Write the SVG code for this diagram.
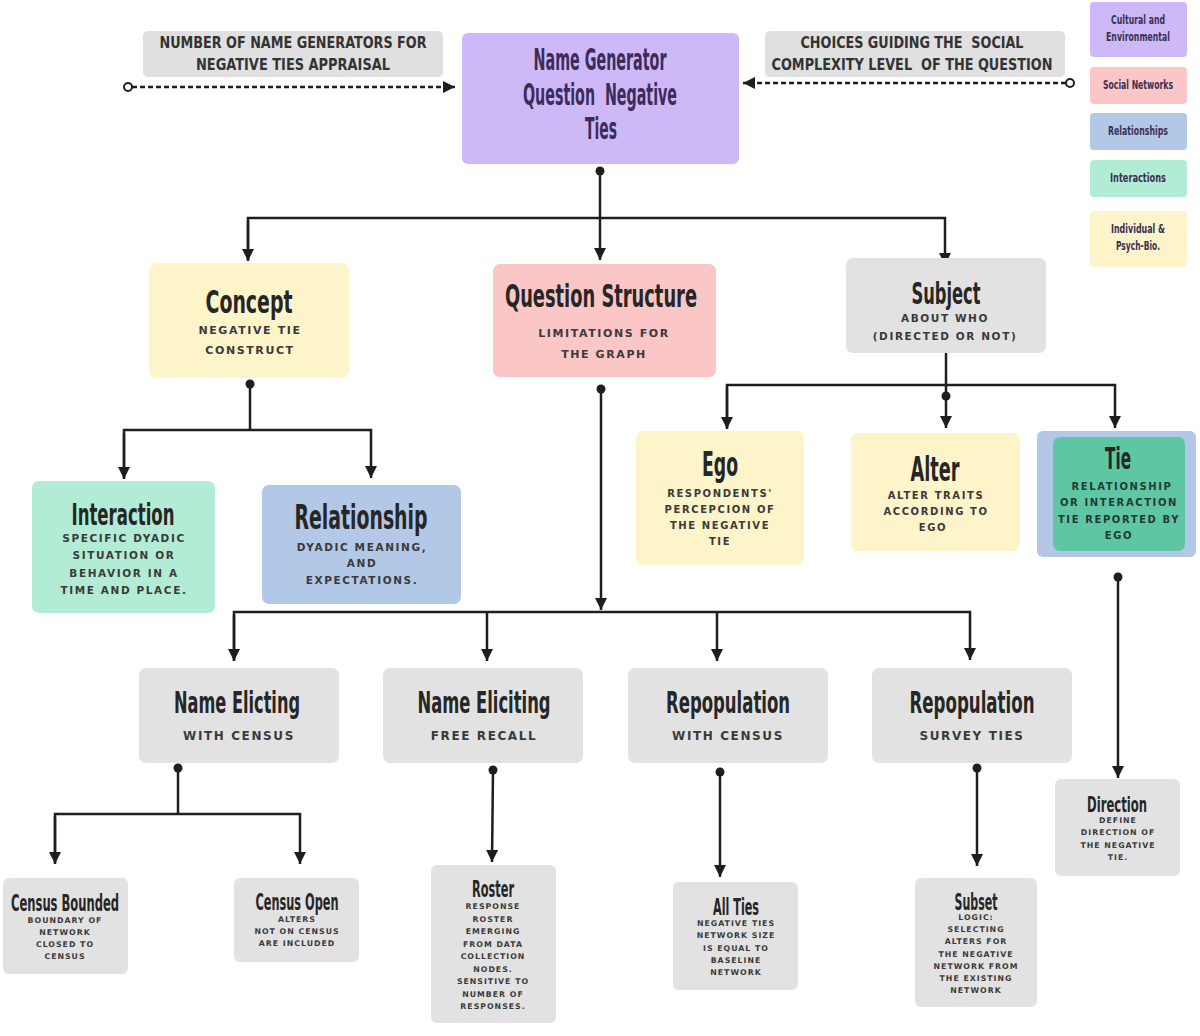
<svg xmlns="http://www.w3.org/2000/svg" width="1200" height="1036" viewBox="0 0 1200 1036">
<style>
.bx{stroke:none}
.purple{fill:#cdb9f7}.pink{fill:#fbc6c6}.yellow{fill:#fdf4ca}.gray{fill:#e2e2e2}.blue{fill:#b3c7e7}.green{fill:#b3ecd4}.teal{fill:#5fc6a4}
.t{font-family:"Liberation Sans Narrow","DejaVu Sans Condensed",sans-serif;font-weight:bold;fill:#262626;text-anchor:middle}
.s{font-family:"DejaVu Sans","Liberation Sans",sans-serif;font-weight:bold;fill:#3a3a3a;text-anchor:middle;font-size:11px;letter-spacing:1.6px}
.ss{font-family:"DejaVu Sans","Liberation Sans",sans-serif;font-weight:bold;fill:#3a3a3a;text-anchor:middle;font-size:7.8px;letter-spacing:1px}
.lg{font-family:"Liberation Sans Narrow","DejaVu Sans Condensed",sans-serif;font-weight:bold;fill:#3a3050;text-anchor:middle;font-size:12px}
.lb{font-family:"Liberation Sans Narrow","DejaVu Sans Condensed",sans-serif;font-weight:bold;fill:#333;text-anchor:middle;font-size:16px;white-space:pre}
.ln{fill:none;stroke:#1e1e1e;stroke-width:2.5}
.dl{fill:none;stroke:#1e1e1e;stroke-width:2.5;stroke-dasharray:5 3}
</style>
<defs>
<marker id="ah" markerUnits="userSpaceOnUse" markerWidth="12" markerHeight="12" refX="10" refY="5" orient="auto" viewBox="0 0 10 10">
<path d="M0,0 L10,5 L0,10 z" fill="#1e1e1e"/>
</marker>
</defs>
<rect width="1200" height="1036" fill="#ffffff"/>

<g id="connectors">
<path class="dl" d="M132,87 L455,87" marker-end="url(#ah)"/>
<circle cx="128" cy="87" r="4" fill="#fff" stroke="#1e1e1e" stroke-width="2"/>
<path class="dl" d="M1066,83 L743,83" marker-end="url(#ah)"/>
<circle cx="1070" cy="83" r="4" fill="#fff" stroke="#1e1e1e" stroke-width="2"/>
<circle cx="600" cy="171" r="4.5" fill="#1e1e1e"/>
<path class="ln" d="M600,171 L600,260" marker-end="url(#ah)"/>
<path class="ln" d="M248,260 L248,218 L945,218 L945,265" marker-end="url(#ah)"/>
<path class="ln" d="M248,221 L248,261" marker-end="url(#ah)"/>
<circle cx="250" cy="384" r="4.5" fill="#1e1e1e"/>
<path class="ln" d="M250,384 L250,430"/>
<path class="ln" d="M124,478 L124,430 L371,430 L371,478" marker-end="url(#ah)"/>
<path class="ln" d="M124,433 L124,479" marker-end="url(#ah)"/>
<path class="ln" d="M946,353 L946,428" marker-end="url(#ah)"/>
<circle cx="946" cy="396" r="4.5" fill="#1e1e1e"/>
<path class="ln" d="M727,428 L727,385 L1115,385 L1115,428" marker-end="url(#ah)"/>
<path class="ln" d="M727,388 L727,429" marker-end="url(#ah)"/>
<circle cx="601" cy="389" r="4.5" fill="#1e1e1e"/>
<path class="ln" d="M601,389 L601,610" marker-end="url(#ah)"/>
<path class="ln" d="M234,660 L234,612 L970,612 L970,660" marker-end="url(#ah)"/>
<path class="ln" d="M234,615 L234,661" marker-end="url(#ah)"/>
<path class="ln" d="M487,612 L487,661" marker-end="url(#ah)"/>
<path class="ln" d="M717,612 L717,661" marker-end="url(#ah)"/>
<circle cx="1118" cy="577" r="4.5" fill="#1e1e1e"/>
<path class="ln" d="M1118,577 L1118,778" marker-end="url(#ah)"/>
<circle cx="178" cy="768" r="4.5" fill="#1e1e1e"/>
<path class="ln" d="M178,768 L178,814"/>
<path class="ln" d="M55,863 L55,814 L300,814 L300,864" marker-end="url(#ah)"/>
<path class="ln" d="M55,817 L55,864" marker-end="url(#ah)"/>
<circle cx="493" cy="770" r="4.5" fill="#1e1e1e"/>
<path class="ln" d="M493,770 L492,862" marker-end="url(#ah)"/>
<circle cx="720" cy="772" r="4.5" fill="#1e1e1e"/>
<path class="ln" d="M720,772 L720,877" marker-end="url(#ah)"/>
<circle cx="977" cy="768" r="4.5" fill="#1e1e1e"/>
<path class="ln" d="M977,768 L977,866" marker-end="url(#ah)"/>
</g>

<g id="label-left">
<rect class="bx" x="143" y="31" width="300" height="46" rx="5" fill="#e0e0e0"/>
<text class="lb" x="293" y="48" textLength="267" lengthAdjust="spacingAndGlyphs">NUMBER OF NAME GENERATORS FOR</text>
<text class="lb" x="293" y="70" textLength="194" lengthAdjust="spacingAndGlyphs">NEGATIVE TIES APPRAISAL</text>
</g>
<g id="label-right">
<rect class="bx" x="765" y="31" width="300" height="46" rx="5" fill="#e0e0e0"/>
<text class="lb" x="912" y="48" textLength="223" lengthAdjust="spacingAndGlyphs" xml:space="preserve">CHOICES GUIDING THE  SOCIAL</text>
<text class="lb" x="912" y="70" textLength="281" lengthAdjust="spacingAndGlyphs" xml:space="preserve">COMPLEXITY LEVEL  OF THE QUESTION</text>
</g>

<g id="main">
<rect class="bx purple" x="462" y="33" width="277" height="131" rx="6"/>
<text class="t" x="600" y="70" font-size="30" style="fill:#3d2b5c" textLength="133" lengthAdjust="spacingAndGlyphs">Name Generator</text>
<text class="t" x="600" y="105" font-size="30" style="fill:#3d2b5c;white-space:pre" textLength="154" lengthAdjust="spacingAndGlyphs" xml:space="preserve">Question  Negative</text>
<text class="t" x="601" y="139" font-size="30" style="fill:#3d2b5c" textLength="32" lengthAdjust="spacingAndGlyphs">Ties</text>
</g>

<g id="legend">
<g id="legend-cultural"><rect class="bx purple" x="1090" y="2" width="97" height="55" rx="4"/>
<text class="lg" x="1138" y="24" textLength="54" lengthAdjust="spacingAndGlyphs">Cultural and</text>
<text class="lg" x="1138" y="41" textLength="64" lengthAdjust="spacingAndGlyphs">Environmental</text></g>
<g id="legend-social"><rect class="bx pink" x="1090" y="67" width="97" height="37" rx="4"/>
<text class="lg" x="1138" y="89" textLength="70" lengthAdjust="spacingAndGlyphs">Social Networks</text></g>
<g id="legend-rel"><rect class="bx blue" x="1090" y="113" width="97" height="37" rx="4"/>
<text class="lg" x="1138" y="135" textLength="60" lengthAdjust="spacingAndGlyphs">Relationships</text></g>
<g id="legend-int"><rect class="bx green" x="1090" y="160" width="97" height="37" rx="4"/>
<text class="lg" x="1138" y="182" textLength="56" lengthAdjust="spacingAndGlyphs">Interactions</text></g>
<g id="legend-ind"><rect class="bx yellow" x="1090" y="211" width="97" height="56" rx="4"/>
<text class="lg" x="1138" y="233" textLength="54" lengthAdjust="spacingAndGlyphs">Individual &amp;</text>
<text class="lg" x="1138" y="250" textLength="44" lengthAdjust="spacingAndGlyphs">Psych-Bio.</text></g>
</g>

<g id="concept">
<rect class="bx yellow" x="149" y="263" width="200" height="115" rx="7"/>
<text class="t" x="249" y="313" font-size="32" textLength="87" lengthAdjust="spacingAndGlyphs">Concept</text>
<text class="s" x="250" y="334">NEGATIVE TIE</text>
<text class="s" x="250" y="354">CONSTRUCT</text>
</g>
<g id="question-structure">
<rect class="bx pink" x="493" y="264" width="223" height="113" rx="7"/>
<text class="t" x="601" y="307" font-size="32" textLength="192" lengthAdjust="spacingAndGlyphs">Question Structure</text>
<text class="s" x="604" y="337">LIMITATIONS FOR</text>
<text class="s" x="604" y="358">THE GRAPH</text>
</g>
<g id="subject">
<rect class="bx gray" x="846" y="258" width="200" height="95" rx="7"/>
<text class="t" x="946" y="304" font-size="30" textLength="69" lengthAdjust="spacingAndGlyphs">Subject</text>
<text class="s" x="945" y="322" style="font-size:10.5px">ABOUT WHO</text>
<text class="s" x="945" y="340" style="font-size:10.5px">(DIRECTED OR NOT)</text>
</g>

<g id="interaction">
<rect class="bx green" x="32" y="481" width="183" height="132" rx="7"/>
<text class="t" x="123" y="525" font-size="30" textLength="103" lengthAdjust="spacingAndGlyphs">Interaction</text>
<text class="s" x="124" y="542" style="font-size:10.5px">SPECIFIC DYADIC</text>
<text class="s" x="124" y="559" style="font-size:10.5px">SITUATION OR</text>
<text class="s" x="124" y="577" style="font-size:10.5px">BEHAVIOR IN A</text>
<text class="s" x="124" y="594" style="font-size:10.5px">TIME AND PLACE.</text>
</g>
<g id="relationship">
<rect class="bx blue" x="262" y="485" width="199" height="119" rx="7"/>
<text class="t" x="361" y="529" font-size="33" textLength="133" lengthAdjust="spacingAndGlyphs">Relationship</text>
<text class="s" x="362" y="551" style="font-size:10.5px">DYADIC MEANING,</text>
<text class="s" x="362" y="567" style="font-size:10.5px">AND</text>
<text class="s" x="362" y="584" style="font-size:10.5px">EXPECTATIONS.</text>
</g>
<g id="ego">
<rect class="bx yellow" x="636" y="431" width="168" height="134" rx="7"/>
<text class="t" x="720" y="476" font-size="34" textLength="36" lengthAdjust="spacingAndGlyphs">Ego</text>
<text class="s" x="720" y="497" style="font-size:10px">RESPONDENTS'</text>
<text class="s" x="720" y="513" style="font-size:10px">PERCEPCION OF</text>
<text class="s" x="720" y="529" style="font-size:10px">THE NEGATIVE</text>
<text class="s" x="720" y="545" style="font-size:10px">TIE</text>
</g>
<g id="alter">
<rect class="bx yellow" x="851" y="433" width="169" height="118" rx="7"/>
<text class="t" x="935" y="481" font-size="34" textLength="49" lengthAdjust="spacingAndGlyphs">Alter</text>
<text class="s" x="936" y="499" style="font-size:10px">ALTER TRAITS</text>
<text class="s" x="936" y="515" style="font-size:10px">ACCORDING TO</text>
<text class="s" x="933" y="531" style="font-size:10px">EGO</text>
</g>
<g id="tie">
<rect class="bx blue" x="1037" y="431" width="159" height="126" rx="6"/>
<rect class="bx teal" x="1053" y="437" width="132" height="114" rx="7"/>
<text class="t" x="1118" y="469" font-size="30" textLength="26" lengthAdjust="spacingAndGlyphs">Tie</text>
<text class="s" x="1122" y="490" style="font-size:10px;fill:#1f3b33">RELATIONSHIP</text>
<text class="s" x="1119" y="506" style="font-size:10px;fill:#1f3b33">OR INTERACTION</text>
<text class="s" x="1119" y="523" style="font-size:10px;fill:#1f3b33">TIE REPORTED BY</text>
<text class="s" x="1119" y="539" style="font-size:10px;fill:#1f3b33">EGO</text>
</g>

<g id="name-elicting-census">
<rect class="bx gray" x="139" y="668" width="200" height="95" rx="7"/>
<text class="t" x="237" y="713" font-size="30" textLength="126" lengthAdjust="spacingAndGlyphs">Name Elicting</text>
<text class="s" x="239" y="740" style="font-size:12px">WITH CENSUS</text>
</g>
<g id="name-eliciting-recall">
<rect class="bx gray" x="383" y="668" width="200" height="95" rx="7"/>
<text class="t" x="484" y="713" font-size="30" textLength="133" lengthAdjust="spacingAndGlyphs">Name Eliciting</text>
<text class="s" x="484" y="740" style="font-size:12px">FREE RECALL</text>
</g>
<g id="repop-census">
<rect class="bx gray" x="628" y="668" width="200" height="95" rx="7"/>
<text class="t" x="728" y="713" font-size="30" textLength="124" lengthAdjust="spacingAndGlyphs">Repopulation</text>
<text class="s" x="728" y="740" style="font-size:12px">WITH CENSUS</text>
</g>
<g id="repop-survey">
<rect class="bx gray" x="872" y="668" width="200" height="95" rx="7"/>
<text class="t" x="972" y="713" font-size="30" textLength="125" lengthAdjust="spacingAndGlyphs">Repopulation</text>
<text class="s" x="972" y="740" style="font-size:12px">SURVEY TIES</text>
</g>

<g id="direction">
<rect class="bx gray" x="1055" y="779" width="125" height="97" rx="6"/>
<text class="t" x="1117" y="812" font-size="22" textLength="60" lengthAdjust="spacingAndGlyphs">Direction</text>
<text class="ss" x="1118" y="823">DEFINE</text>
<text class="ss" x="1118" y="835">DIRECTION OF</text>
<text class="ss" x="1118" y="848">THE NEGATIVE</text>
<text class="ss" x="1118" y="860">TIE.</text>
</g>

<g id="census-bounded">
<rect class="bx gray" x="3" y="878" width="125" height="96" rx="6"/>
<text class="t" x="65" y="911" font-size="23" textLength="108" lengthAdjust="spacingAndGlyphs">Census Bounded</text>
<text class="ss" x="65" y="923">BOUNDARY OF</text>
<text class="ss" x="65" y="935">NETWORK</text>
<text class="ss" x="65" y="947">CLOSED TO</text>
<text class="ss" x="65" y="959">CENSUS</text>
</g>
<g id="census-open">
<rect class="bx gray" x="234" y="878" width="125" height="84" rx="6"/>
<text class="t" x="297" y="910" font-size="23" textLength="83" lengthAdjust="spacingAndGlyphs">Census Open</text>
<text class="ss" x="297" y="922">ALTERS</text>
<text class="ss" x="297" y="934">NOT ON CENSUS</text>
<text class="ss" x="297" y="946">ARE INCLUDED</text>
</g>
<g id="roster">
<rect class="bx gray" x="431" y="865" width="125" height="158" rx="6"/>
<text class="t" x="493" y="897" font-size="23" textLength="42" lengthAdjust="spacingAndGlyphs">Roster</text>
<text class="ss" x="493" y="909">RESPONSE</text>
<text class="ss" x="493" y="922">ROSTER</text>
<text class="ss" x="493" y="934">EMERGING</text>
<text class="ss" x="493" y="947">FROM DATA</text>
<text class="ss" x="493" y="959">COLLECTION</text>
<text class="ss" x="493" y="972">NODES.</text>
<text class="ss" x="493" y="984">SENSITIVE TO</text>
<text class="ss" x="493" y="997">NUMBER OF</text>
<text class="ss" x="493" y="1009">RESPONSES.</text>
</g>
<g id="all-ties">
<rect class="bx gray" x="673" y="882" width="125" height="108" rx="6"/>
<text class="t" x="736" y="915" font-size="23" textLength="46" lengthAdjust="spacingAndGlyphs">All Ties</text>
<text class="ss" x="736" y="926">NEGATIVE TIES</text>
<text class="ss" x="736" y="938">NETWORK SIZE</text>
<text class="ss" x="736" y="951">IS EQUAL TO</text>
<text class="ss" x="736" y="963">BASELINE</text>
<text class="ss" x="736" y="975">NETWORK</text>
</g>
<g id="subset">
<rect class="bx gray" x="915" y="878" width="122" height="129" rx="6"/>
<text class="t" x="976" y="910" font-size="23" textLength="43" lengthAdjust="spacingAndGlyphs">Subset</text>
<text class="ss" x="976" y="920">LOGIC:</text>
<text class="ss" x="976" y="932">SELECTING</text>
<text class="ss" x="976" y="944">ALTERS FOR</text>
<text class="ss" x="976" y="957">THE NEGATIVE</text>
<text class="ss" x="976" y="969">NETWORK FROM</text>
<text class="ss" x="976" y="981">THE EXISTING</text>
<text class="ss" x="976" y="993">NETWORK</text>
</g>
</svg>
